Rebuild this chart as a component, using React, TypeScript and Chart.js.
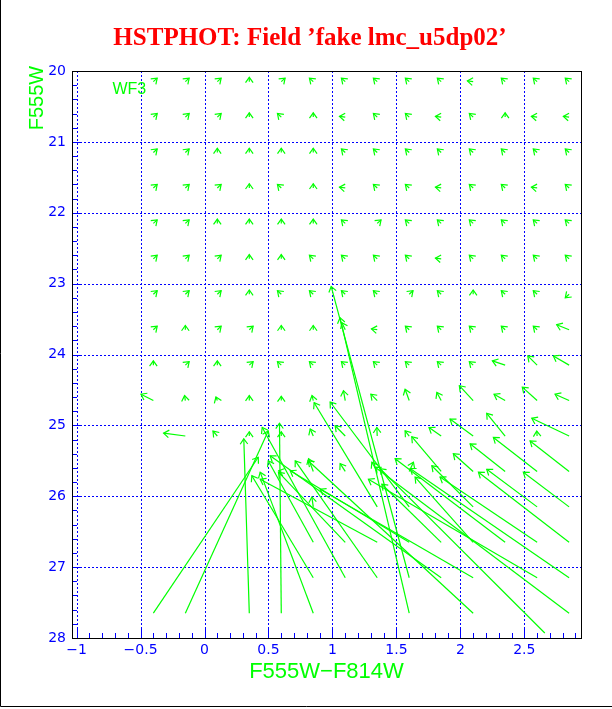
import React, { useEffect, useRef } from "react";
import { Chart, registerables } from "chart.js";

Chart.register(...registerables);

const TITLE = "HSTPHOT: Field ’fake lmc_u5dp02’";
const X_LABEL = "F555W−F814W";
const Y_LABEL = "F555W";
const CHIP_LABEL = "WF3";

const GREEN = "#00ff00";
const BLUE = "#0000ff";

const xTickValues = [-1, -0.5, 0, 0.5, 1, 1.5, 2, 2.5];
const yTickValues = [20, 21, 22, 23, 24, 25, 26, 27, 28];
const xMinorStep = 0.1;
const yMinorStep = 0.2;
const xRange = [-1.036, 2.943];
const yRange = [20, 28];

// input grid of fake stars (colour columns, magnitude rows) for the bright rows
const gridColors = [-0.4, -0.15, 0.1, 0.35, 0.6, 0.85, 1.1, 1.35, 1.6, 1.85, 2.1, 2.35, 2.6, 2.85];
const gridMags = [20.15, 20.65, 21.15, 21.65, 22.15, 22.65, 23.15, 23.65, 24.15];

// direction of the tiny (bright star) arrows, one row per magnitude; "-" = listed with the long arrows
const smallArrowDirs = [
  "UR UR UR U UR UL UL UL UL UL L UL UL UL",
  "UR UR UR U UL U L UL UL L UL U L L",
  "UR UR U U U U UL UL UL UL UL UL UL UL",
  "UR UR UR U UL U L UL UL L UL UL L UL",
  "UR UR U U U U UL UR UL UL UL UL UL UL",
  "UR UR UR U U UL UL UL UL L UL UL UL UL",
  "UR UR UR U UL UL UL UL UR UL U UL UL DL",
  "UR U UR UR U U - L UL UL UL UL UL -",
  "U UR U UR UL UL UL UL UL UL UL - - -",
];
const dirShift: Record<string, [number, number]> = {
  UR: [0.03, -0.05],
  U: [0, -0.06],
  UL: [-0.03, -0.05],
  L: [-0.045, -0.01],
  DL: [-0.03, 0.05],
};

// larger shifts: input (tail) -> recovered (head)
const longTailColor = [
  1.1, 2.85,
  2.35, 2.6, 2.85,
  -0.4, -0.15, 0.1, 0.35, 0.6, 0.85, 1.1, 1.35, 1.6, 1.85, 2.1, 2.35, 2.6, 2.85,
  -0.15, 0.1, 0.35, 0.6, 0.85, 1.1, 1.35, 1.6, 1.85, 2.1, 2.35, 2.6, 2.85,
  0.6, 0.85, 1.1, 1.35, 1.6, 1.85, 2.1, 2.35, 2.6, 2.85,
  0.85, 1.35, 1.6, 2.1, 2.6, 2.85,
  0.85, 1.1, 1.35, 1.6, 1.85, 2.1, 2.35, 2.6, 2.85,
  0.85, 1.1, 1.35, 1.6, 1.85, 2.1, 2.6, 2.85,
  -0.4, -0.15, 0.35, 0.6, 0.85, 1.6, 2.1, 2.66, 2.85,
];
const longTailMag = [
  23.65, 23.65,
  24.15, 24.15, 24.15,
  24.65, 24.65, 24.65, 24.65, 24.65, 24.65, 24.65, 24.65, 24.65, 24.65, 24.65, 24.65, 24.65, 24.65,
  25.15, 25.15, 25.15, 25.15, 25.15, 25.15, 25.15, 25.15, 25.15, 25.15, 25.15, 25.15, 25.15,
  25.65, 25.65, 25.65, 25.65, 25.65, 25.65, 25.65, 25.65, 25.65, 25.65,
  26.15, 26.15, 26.15, 26.15, 26.15, 26.15,
  26.65, 26.65, 26.65, 26.65, 26.65, 26.65, 26.65, 26.65, 26.65,
  27.15, 27.15, 27.15, 27.15, 27.15, 27.15, 27.15, 27.15,
  27.65, 27.65, 27.65, 27.65, 27.65, 27.65, 27.65, 27.93, 27.65,
];
const longHeadColor = [
  1.073, 2.753,
  2.25, 2.527, 2.727,
  -0.497, -0.156, 0.089, 0.35, 0.6, 0.84, 1.086, 1.3, 1.568, 1.816, 1.992, 2.263, 2.484, 2.74,
  -0.32, 0.066, 0.35, 0.6, 0.826, 1.021, 1.347, 1.568, 1.755, 1.919, 2.206, 2.597, 2.558,
  0.58, 0.813, 1.06, 1.308, 1.633, 1.62, 1.945, 2.076, 2.258, 2.545,
  0.839, 0.857, 0.982, 1.777, 2.206, 2.492,
  0.498, 0.578, 0.435, 0.67, 1.386, 1.646, 1.49, 1.841, 2.141,
  0.37, 0.451, 0.709, 0.99, 0.513, 0.904, 1.281, 1.607,
  0.42, 0.498, 0.307, 0.586, 0.435, 1.059, 0.81, 1.373, 1.334,
];
const longHeadMag = [
  23.55, 23.58,
  24.09, 24.02, 24.02,
  24.56, 24.58, 24.6, 24.58, 24.59, 24.58, 24.51, 24.56, 24.49, 24.535, 24.44, 24.56, 24.46, 24.56,
  25.11, 25.08, 25.09, 25.09, 25.05, 25.005, 25.03, 25.076, 25.03, 24.91, 24.83, 25.08, 24.9,
  25.64, 25.47, 25.54, 25.52, 25.52, 25.16, 25.4, 25.26, 25.17, 25.22,
  26.01, 24.68, 24.67, 25.57, 25.62, 25.66,
  25.5, 25.66, 25.76, 25.64, 25.83, 25.73, 25.47, 25.73, 25.66,
  25.71, 25.03, 25.5, 23.04, 25.43, 25.9, 25.76, 25.61,
  25.45, 25.08, 25.19, 24.97, 25.66, 23.48, 25.5, 25.61, 25.59,
];

type Arrow = [number, number, number, number];

function buildArrows(): Arrow[] {
  const list: Arrow[] = [];
  smallArrowDirs.forEach((row, ri) => {
    row.split(" ").forEach((code, ci) => {
      if (code === "-") return;
      const s = dirShift[code];
      const x0 = gridColors[ci];
      const y0 = gridMags[ri];
      list.push([x0, y0, x0 + s[0], y0 + s[1]]);
    });
  });
  longTailColor.forEach((c, i) => {
    list.push([c, longTailMag[i], longHeadColor[i], longHeadMag[i]]);
  });
  return list;
}

const crisp = (v: number) => Math.round(v) + 0.5;

const gridPlugin = {
  id: "dottedGrid",
  beforeDatasetsDraw(chart: any) {
    const { ctx, chartArea: a, scales } = chart;
    const xs = scales.x;
    const ys = scales.y;
    ctx.save();
    ctx.strokeStyle = BLUE;
    ctx.lineWidth = 1;
    ctx.setLineDash([2, 2]);
    xTickValues.forEach((v) => {
      const px = crisp(xs.getPixelForValue(v));
      ctx.beginPath();
      ctx.moveTo(px, a.top);
      ctx.lineTo(px, a.bottom);
      ctx.stroke();
    });
    yTickValues.forEach((v) => {
      const py = crisp(ys.getPixelForValue(v));
      ctx.beginPath();
      ctx.moveTo(a.left, py);
      ctx.lineTo(a.right, py);
      ctx.stroke();
    });
    ctx.restore();
  },
};

const arrowHeadPlugin = {
  id: "arrowHeads",
  afterDatasetsDraw(chart: any) {
    const { ctx } = chart;
    ctx.save();
    ctx.strokeStyle = GREEN;
    ctx.lineWidth = 1.2;
    const len = 6.5;
    const spread = 0.62;
    chart.data.datasets.forEach((_: any, i: number) => {
      const meta = chart.getDatasetMeta(i);
      const p0 = meta.data[0];
      const p1 = meta.data[1];
      if (!p0 || !p1) return;
      const ang = Math.atan2(p1.y - p0.y, p1.x - p0.x);
      const back = ang + Math.PI;
      ctx.beginPath();
      ctx.moveTo(p1.x + len * Math.cos(back - spread), p1.y + len * Math.sin(back - spread));
      ctx.lineTo(p1.x, p1.y);
      ctx.lineTo(p1.x + len * Math.cos(back + spread), p1.y + len * Math.sin(back + spread));
      ctx.stroke();
    });
    ctx.restore();
  },
};

const framePlugin = {
  id: "frameTicks",
  afterDraw(chart: any) {
    const { ctx, chartArea: a, scales } = chart;
    const xs = scales.x;
    const ys = scales.y;
    ctx.save();
    ctx.strokeStyle = BLUE;
    ctx.lineWidth = 1;
    const nx = Math.round((xRange[1] + 1) / xMinorStep);
    for (let k = 0; k <= nx; k++) {
      const v = -1 + k * xMinorStep;
      if (v > xRange[1]) break;
      const major = xTickValues.some((t) => Math.abs(t - v) < 1e-6);
      const px = crisp(xs.getPixelForValue(v));
      const l = major ? 10 : 5;
      ctx.beginPath();
      ctx.moveTo(px, a.bottom);
      ctx.lineTo(px, a.bottom - l);
      ctx.stroke();
    }
    const ny = Math.round((yRange[1] - yRange[0]) / yMinorStep);
    for (let k = 0; k <= ny; k++) {
      const v = yRange[0] + k * yMinorStep;
      const major = yTickValues.some((t) => Math.abs(t - v) < 1e-6);
      const py = crisp(ys.getPixelForValue(v));
      const l = major ? 10 : 5;
      ctx.beginPath();
      ctx.moveTo(a.left, py);
      ctx.lineTo(a.left + l, py);
      ctx.stroke();
    }
    ctx.strokeStyle = "#000000";
    ctx.setLineDash([]);
    ctx.strokeRect(crisp(a.left), crisp(a.top), Math.round(a.right - a.left), Math.round(a.bottom - a.top));
    // title
    ctx.fillStyle = "#ff0000";
    ctx.font = "bold 25px 'Liberation Serif'";
    ctx.textAlign = "center";
    ctx.textBaseline = "alphabetic";
    ctx.fillText(TITLE, 310, 45);
    // axis titles
    ctx.fillStyle = GREEN;
    ctx.font = "22px 'Liberation Sans'";
    ctx.fillText(X_LABEL, (a.left + a.right) / 2, 678);
    ctx.save();
    ctx.translate(43, 98);
    ctx.rotate(-Math.PI / 2);
    ctx.font = "20px 'Liberation Sans'";
    ctx.fillText(Y_LABEL, 0, 0);
    ctx.restore();
    ctx.font = "16px 'Liberation Sans'";
    ctx.textAlign = "left";
    ctx.fillText(CHIP_LABEL, xs.getPixelForValue(-0.72), ys.getPixelForValue(20.32));
    // outer border (left and bottom edges)
    ctx.strokeStyle = "#000000";
    ctx.beginPath();
    ctx.moveTo(0.5, 0);
    ctx.lineTo(0.5, 706.5);
    ctx.lineTo(612, 706.5);
    ctx.stroke();
    ctx.restore();
  },
};

export default function App() {
  const ref = useRef<HTMLCanvasElement>(null);
  useEffect(() => {
    document.body.style.margin = "0";
    const canvas = ref.current;
    if (!canvas) return;
    const datasets = buildArrows().map((a) => ({
      data: [
        { x: a[0], y: a[1] },
        { x: a[2], y: a[3] },
      ],
      showLine: true,
      borderColor: GREEN,
      backgroundColor: GREEN,
      borderWidth: 1.2,
      pointRadius: 0,
      pointHoverRadius: 0,
      fill: false,
    }));
    const chart = new Chart(canvas, {
      type: "scatter",
      data: { datasets },
      options: {
        animation: false,
        responsive: false,
        devicePixelRatio: 1,
        events: [],
        layout: { padding: { left: 0, right: 31, top: 71, bottom: 0 } },
        plugins: {
          legend: { display: false },
          tooltip: { enabled: false },
          title: { display: false },
        },
        scales: {
          x: {
            type: "linear",
            min: xRange[0],
            max: xRange[1],
            afterFit: (s: any) => {
              s.height = 71;
            },
            afterBuildTicks: (s: any) => {
              s.ticks = xTickValues.map((v) => ({ value: v }));
            },
            grid: { display: false, drawTicks: false },
            border: { display: false },
            ticks: {
              color: BLUE,
              padding: 4,
              maxRotation: 0,
              autoSkip: false,
              font: { family: "'DejaVu Sans'", size: 14 },
              callback: (v: any) => String(v).replace("-", "−"),
            },
          },
          y: {
            type: "linear",
            reverse: true,
            min: yRange[0],
            max: yRange[1],
            afterFit: (s: any) => {
              s.width = 72;
            },
            afterBuildTicks: (s: any) => {
              s.ticks = yTickValues.map((v) => ({ value: v }));
            },
            grid: { display: false, drawTicks: false },
            border: { display: false },
            ticks: {
              color: BLUE,
              padding: 6,
              autoSkip: false,
              font: { family: "'DejaVu Sans'", size: 14 },
              callback: (v: any) => String(v),
            },
          },
        },
      },
      plugins: [gridPlugin, arrowHeadPlugin, framePlugin],
    } as any);
    return () => chart.destroy();
  }, []);
  return (
    <canvas
      ref={ref}
      width={612}
      height={709}
      style={{ display: "block", width: 612, height: 709 }}
    />
  );
}
